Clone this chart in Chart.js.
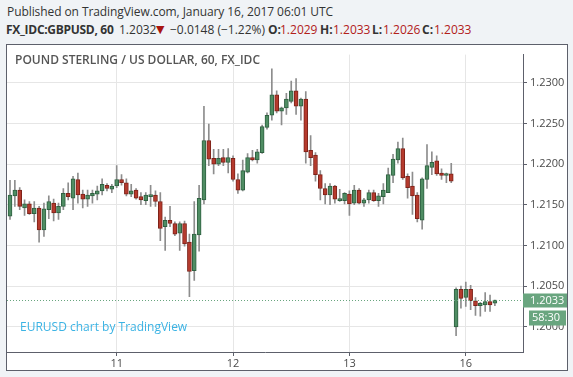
<!DOCTYPE html>
<html>
<head>
<meta charset="utf-8">
<script src="https://cdn.jsdelivr.net/npm/chart.js@4.4.0/dist/chart.umd.min.js"></script>
<style>
  body { margin: 0; width: 573px; height: 377px; background: #f0f3f6; font-family: 'Open Sans', sans-serif; position: relative; overflow: hidden; }
  #pub { position: absolute; left: 7px; top: 4px; font-size: 12px; line-height: 16px; letter-spacing: -0.08px; color: #333; white-space: nowrap; }
  #sym span { position: absolute; top: 22px; font-size: 12px; line-height: 16px; color: #333; white-space: nowrap; }
  #sym .b { font-weight: 700; }
  #sym .red { color: #b2201a; }
  #sym .tri { color: #a8150f; font-size: 11px; font-family: 'DejaVu Sans', sans-serif; }
  #box { position: absolute; left: 6px; top: 44px; width: 560px; height: 325px; border: 1px solid #5d606b; background: #fff; }
  #chartTitle { position: absolute; left: 8px; top: 7px; font-size: 12px; line-height: 16px; font-weight: 600; color: #555; white-space: nowrap; pointer-events: none; }
  #brand { position: absolute; left: 13px; top: 274px; font-size: 12px; line-height: 16px; color: #3bb3e4; white-space: nowrap; pointer-events: none; }
  canvas { position: absolute; left: 0; top: 0; }
</style>
</head>
<body>
<div id="pub">Published on TradingView.com, January 16, 2017 06:01 UTC</div>
<div id="sym">
  <span class="b" style="left:6px; letter-spacing:-0.3px">FX_IDC:GBPUSD, 60</span>
  <span style="left:119px">1.2032</span>
  <span class="tri" style="left:156px">▼</span>
  <span style="left:170px">−0.0148 (−1.22%)</span>
  <span class="b" style="left:268px">O:</span><span class="red" style="left:280px">1.2029</span>
  <span class="b" style="left:320px">H:</span><span class="red" style="left:333px">1.2033</span>
  <span class="b" style="left:372px">L:</span><span class="red" style="left:383px">1.2026</span>
  <span class="b" style="left:422px">C:</span><span class="red" style="left:434px">1.2033</span>
</div>
<div id="box">
  <canvas id="chart" width="560" height="325"></canvas>
  <div id="chartTitle">POUND STERLING / US DOLLAR, 60, FX_IDC</div>
  <div id="brand">EURUSD chart by TradingView</div>
</div>
<script>
// hourly candles, Jan 10 02:00 .. Jan 16 06:00 UTC (weekend removed)
const openPrices = [
  1.2136, 1.2161, 1.2168, 1.2146, 1.2151, 1.2139, 1.2146, 1.2119, 1.2144, 1.2152,
  1.2140, 1.2148, 1.2164, 1.2158, 1.2181, 1.2163, 1.2157, 1.2161, 1.2163, 1.2167,
  1.2174, 1.2169, 1.2173, 1.2181, 1.2177, 1.2163, 1.2168, 1.2160, 1.2155, 1.2160,
  1.2162, 1.2154, 1.2123, 1.2131, 1.2127, 1.2115, 1.2127, 1.2104, 1.2069, 1.2113,
  1.2156, 1.2229, 1.2207, 1.2200, 1.2208, 1.2202, 1.2207, 1.2181, 1.2168, 1.2190,
  1.2208, 1.2205, 1.2214, 1.2245, 1.2260, 1.2285, 1.2265, 1.2269, 1.2277, 1.2290,
  1.2271, 1.2280, 1.2217, 1.2211, 1.2187, 1.2170, 1.2162, 1.2173, 1.2155, 1.2155,
  1.2163, 1.2152, 1.2168, 1.2152, 1.2156, 1.2165, 1.2155, 1.2160, 1.2165, 1.2186,
  1.2205, 1.2219, 1.2185, 1.2173, 1.2162, 1.2131, 1.2181, 1.2196, 1.2204, 1.2189,
  1.2186, 1.2188, 1.2000, 1.2046, 1.2036, 1.2046, 1.2032, 1.2026, 1.2027, 1.2031,
  1.2029
];
const highPrices = [
  1.2180, 1.2180, 1.2171, 1.2156, 1.2154, 1.2154, 1.2148, 1.2152, 1.2161, 1.2157,
  1.2152, 1.2170, 1.2177, 1.2185, 1.2189, 1.2168, 1.2168, 1.2168, 1.2173, 1.2182,
  1.2176, 1.2175, 1.2198, 1.2187, 1.2182, 1.2175, 1.2170, 1.2165, 1.2165, 1.2174,
  1.2167, 1.2165, 1.2135, 1.2148, 1.2129, 1.2129, 1.2130, 1.2114, 1.2154, 1.2174,
  1.2271, 1.2249, 1.2218, 1.2218, 1.2218, 1.2219, 1.2210, 1.2188, 1.2205, 1.2213,
  1.2217, 1.2218, 1.2248, 1.2263, 1.2317, 1.2290, 1.2270, 1.2287, 1.2302, 1.2305,
  1.2281, 1.2289, 1.2235, 1.2214, 1.2192, 1.2176, 1.2176, 1.2174, 1.2169, 1.2165,
  1.2167, 1.2174, 1.2170, 1.2158, 1.2168, 1.2168, 1.2164, 1.2176, 1.2195, 1.2212,
  1.2227, 1.2232, 1.2188, 1.2190, 1.2165, 1.2183, 1.2224, 1.2215, 1.2210, 1.2194,
  1.2189, 1.2201, 1.2048, 1.2050, 1.2055, 1.2051, 1.2036, 1.2030, 1.2042, 1.2039,
  1.2033
];
const lowPrices = [
  1.2132, 1.2148, 1.2144, 1.2137, 1.2138, 1.2129, 1.2104, 1.2111, 1.2133, 1.2130,
  1.2132, 1.2144, 1.2156, 1.2144, 1.2152, 1.2146, 1.2148, 1.2152, 1.2156, 1.2162,
  1.2167, 1.2165, 1.2171, 1.2174, 1.2161, 1.2160, 1.2157, 1.2150, 1.2150, 1.2148,
  1.2148, 1.2106, 1.2094, 1.2123, 1.2112, 1.2094, 1.2099, 1.2037, 1.2057, 1.2093,
  1.2151, 1.2198, 1.2188, 1.2198, 1.2198, 1.2189, 1.2179, 1.2164, 1.2167, 1.2189,
  1.2204, 1.2201, 1.2213, 1.2243, 1.2254, 1.2263, 1.2248, 1.2261, 1.2275, 1.2261,
  1.2254, 1.2201, 1.2198, 1.2179, 1.2156, 1.2151, 1.2150, 1.2152, 1.2154, 1.2151,
  1.2137, 1.2150, 1.2151, 1.2148, 1.2152, 1.2154, 1.2148, 1.2151, 1.2165, 1.2177,
  1.2201, 1.2181, 1.2158, 1.2138, 1.2129, 1.2120, 1.2170, 1.2187, 1.2186, 1.2181,
  1.2177, 1.2177, 1.1989, 1.2023, 1.2025, 1.2021, 1.2014, 1.2013, 1.2019, 1.2019,
  1.2026
];
const closePrices = [
  1.2162, 1.2168, 1.2148, 1.2151, 1.2139, 1.2146, 1.2119, 1.2145, 1.2154, 1.2140,
  1.2148, 1.2164, 1.2160, 1.2182, 1.2162, 1.2157, 1.2162, 1.2164, 1.2167, 1.2175,
  1.2170, 1.2173, 1.2181, 1.2177, 1.2163, 1.2167, 1.2158, 1.2156, 1.2162, 1.2161,
  1.2154, 1.2121, 1.2131, 1.2127, 1.2114, 1.2127, 1.2102, 1.2068, 1.2114, 1.2158,
  1.2229, 1.2206, 1.2200, 1.2207, 1.2202, 1.2208, 1.2181, 1.2168, 1.2192, 1.2208,
  1.2205, 1.2215, 1.2246, 1.2260, 1.2285, 1.2265, 1.2269, 1.2280, 1.2290, 1.2271,
  1.2280, 1.2215, 1.2208, 1.2187, 1.2170, 1.2162, 1.2173, 1.2157, 1.2156, 1.2164,
  1.2151, 1.2168, 1.2152, 1.2156, 1.2165, 1.2155, 1.2161, 1.2168, 1.2187, 1.2206,
  1.2219, 1.2183, 1.2171, 1.2161, 1.2133, 1.2182, 1.2198, 1.2202, 1.2188, 1.2186,
  1.2187, 1.2179, 1.2046, 1.2035, 1.2046, 1.2032, 1.2026, 1.2029, 1.2031, 1.2027,
  1.2033
];

const dayTickIndex = [22, 46, 70, 94];
const dayTickLabels = ['11', '12', '13', '16'];
const priceTicks = [1.2000, 1.2050, 1.2100, 1.2150, 1.2200, 1.2250, 1.2300];
const lastPrice = 1.2033;
const countdown = '58:30';

const UP = '#4f8d63', UP_EDGE = '#2f6041';
const DOWN = '#b53a2d', DOWN_EDGE = '#7d2219';
const TAG = '#69a57f';

const isUp = closePrices.map((c, i) => c >= openPrices[i]);

const wickData = highPrices.map((h, i) => ({ x: i, y: [lowPrices[i], h] }));
const bodyData = openPrices.map((o, i) => ({ x: i, y: [Math.min(o, closePrices[i]), Math.max(o, closePrices[i])] }));

// dotted last price line + price / countdown tags
const priceTagPlugin = {
  id: 'priceTag',
  afterDatasetsDraw(chart) {
    const { ctx, chartArea, scales } = chart;
    const y = Math.round(scales.y.getPixelForValue(lastPrice)) + 0.5;
    ctx.save();
    ctx.strokeStyle = TAG;
    ctx.lineWidth = 1;
    ctx.setLineDash([1, 2]);
    ctx.beginPath();
    ctx.moveTo(chartArea.left, y);
    ctx.lineTo(chartArea.right, y);
    ctx.stroke();
    ctx.setLineDash([]);

    ctx.fillStyle = TAG;
    ctx.fillRect(chartArea.right, y - 7, chart.width - chartArea.right, 14);
    ctx.fillRect(chartArea.right + 6, y + 10, chart.width - chartArea.right - 7, 15);
    ctx.fillStyle = '#fff';
    ctx.font = '11px "Open Sans", sans-serif';
    ctx.textBaseline = 'middle';
    ctx.textAlign = 'left';
    ctx.fillText(lastPrice.toFixed(4), chartArea.right + 7, y);
    ctx.fillText(countdown, chartArea.right + 9, y + 17.5);
    ctx.restore();
  }
};

new Chart(document.getElementById('chart'), {
  type: 'bar',
  data: {
    datasets: [
      {
        label: 'Body',
        data: bodyData,
        backgroundColor: isUp.map(u => u ? UP : DOWN),
        borderColor: isUp.map(u => u ? UP_EDGE : DOWN_EDGE),
        borderWidth: 1,
        borderSkipped: false,
        barThickness: 4,
        minBarLength: 2,
        grouped: false,
        order: 0
      },
      {
        label: 'Wick',
        data: wickData,
        backgroundColor: '#8d8d8d',
        borderWidth: 0,
        barThickness: 1,
        grouped: false,
        order: 1
      }
    ]
  },
  options: {
    responsive: false,
    animation: false,
    devicePixelRatio: 1,
    layout: { padding: 0 },
    plugins: { legend: { display: false }, tooltip: { enabled: false } },
    scales: {
      x: {
        type: 'linear',
        offset: false,
        min: -0.62,
        max: 105.8,
        afterFit(scale) { scale.height = 18; },
        afterBuildTicks(scale) { scale.ticks = dayTickIndex.map(v => ({ value: v })); },
        ticks: {
          autoSkip: false,
          maxRotation: 0,
          padding: 1,
          color: '#4a4a4a',
          font: { family: 'Open Sans', size: 11 },
          callback: (v, i) => dayTickLabels[i]
        },
        grid: { offset: false, color: '#e6e6e6', tickColor: '#5d606b', tickLength: 4 },
        border: { color: '#5d606b', width: 1 }
      },
      y: {
        position: 'right',
        min: 1.196905,
        max: 1.233452,
        afterFit(scale) { scale.width = 44; },
        afterBuildTicks(scale) { scale.ticks = priceTicks.map(v => ({ value: v })); },
        ticks: {
          padding: 3,
          color: '#4a4a4a',
          font: { family: 'Open Sans', size: 11 },
          callback: v => v.toFixed(4)
        },
        grid: { color: '#e6e6e6', tickColor: '#5d606b', tickLength: 4 },
        border: { color: '#5d606b', width: 1 }
      }
    }
  },
  plugins: [priceTagPlugin]
});
</script>
</body>
</html>
